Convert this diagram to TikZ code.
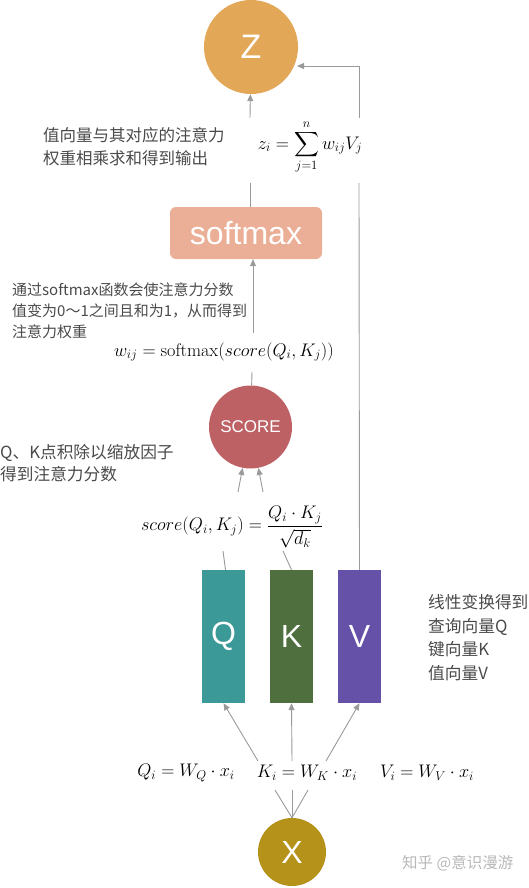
\RequirePackage{fix-cm}
\documentclass[tikz,border=0pt]{standalone}
\usepackage{fontspec}
\usepackage{amsmath}
\newfontfamily\hv{Liberation Sans}
\newfontfamily\cjk{Noto Sans CJK SC}
\usetikzlibrary{arrows.meta}
\definecolor{zcol}{HTML}{E2A757}
\definecolor{smcol}{HTML}{EBAF97}
\definecolor{sccol}{HTML}{BD6165}
\definecolor{qcol}{HTML}{3B9A97}
\definecolor{kcol}{HTML}{4F6F3E}
\definecolor{vcol}{HTML}{6551A8}
\definecolor{xcol}{HTML}{B5921A}
\definecolor{linegray}{HTML}{9A9A9A}
\definecolor{notegray}{HTML}{4A4A4A}
\definecolor{wmgray}{HTML}{B8B8B8}
\begin{document}
\begin{tikzpicture}[x=1pt,y=-1pt,
  conn/.style={draw=linegray, line width=0.9pt},
  arr/.style={conn, -{Triangle[length=7pt,width=6pt]}},
  circ/.style={circle, inner sep=0pt, text=white},
  bar/.style={rectangle, inner sep=0pt, minimum width=43pt, minimum height=133pt, text=white, font=\hv\fontsize{32}{32}\selectfont},
  note/.style={align=left, anchor=west, text=notegray, inner sep=0pt},
  eq/.style={inner sep=0pt, font=\fontsize{18.2}{20}\selectfont}
]
\useasboundingbox (0,0) rectangle (528,888);
% nodes
\node[circ, fill=zcol, minimum size=94pt, font=\hv\fontsize{34}{34}\selectfont] (Z) at (251,47) {Z};
\node[rectangle, rounded corners=6pt, fill=smcol, minimum width=152pt, minimum height=52pt, inner sep=0pt, text=white, font=\hv\fontsize{32}{32}\selectfont] (SM) at (246,233) {softmax};
\node[circ, fill=sccol, minimum size=83pt, font=\hv\fontsize{17}{17}\selectfont] (SC) at (250.5,427) {SCORE};
\node[bar, fill=qcol] (Q) at (223.5,636.5) {Q};
\node[bar, fill=kcol] (K) at (291.5,636.5) {K};
\node[bar, fill=vcol] (V) at (359.5,636.5) {V};
\node[circ, fill=xcol, minimum size=68pt, font=\hv\fontsize{32}{32}\selectfont] (X) at (292,852) {X};
% formulas
\node[eq] (fz) at (310,147) {$\displaystyle z_i=\sum_{j=1}^{n} w_{ij}V_j$};
\node[eq] (fw) at (224,352) {$w_{ij}=\mathrm{softmax}(score(Q_i,K_j))$};
\node[eq] (fs) at (232,527) {$\displaystyle score(Q_i,K_j)=\frac{Q_i\cdot K_j}{\sqrt{d_k}}$};
\node[eq] (fq) at (186,773) {$Q_i=W_Q\cdot x_i$};
\node[eq] (fk) at (307,773) {$K_i=W_K\cdot x_i$};
\node[eq] (fv) at (427,773) {$V_i=W_V\cdot x_i$};
% notes
\node[note, font=\cjk\fontsize{16.5}{23}\selectfont] (n1) at (43,146.5) {值向量与其对应的注意力\\权重相乘求和得到输出};
\node[note, font=\cjk\fontsize{15}{21}\selectfont] (n2) at (12,311) {通过softmax函数会使注意力分数\\值变为0\char"FF5E 1之间且和为1，从而得到\\注意力权重};
\node[note, font=\cjk\fontsize{16.7}{22}\selectfont] (n3) at (0,463) {Q、K点积除以缩放因子\\得到注意力分数};
\node[note, font=\cjk\fontsize{16.7}{23.7}\selectfont] (n4) at (428,637.5) {线性变换得到\\查询向量Q\\键向量K\\值向量V};
\node[anchor=west, inner sep=0pt, text=wmgray, font=\cjk\fontsize{15.5}{15.5}\selectfont] (wm) at (402,863) {知乎 @意识漫游};
% coordinates
\coordinate (a1) at (250,183);
\coordinate (a2) at (250,118);
\coordinate (b1) at (359,183);
\coordinate (b2) at (359,118);
\coordinate (b3) at (359,66);
\coordinate (zin) at (297,66);
\coordinate (c1) at (252,372);
\coordinate (c2) at (253,333);
\coordinate (d1) at (223,551);
\coordinate (d2) at (238,492);
\coordinate (e1) at (283,551);
\coordinate (e2) at (263,492);
\coordinate (f1) at (275,790);
\coordinate (f2) at (292,790);
\coordinate (f3) at (308,790);
\coordinate (g1) at (258,761);
\coordinate (g2) at (292,761);
\coordinate (g3) at (326,761);
% connectors
\draw[conn] (a1 |- SM.north) -- (a1);
\draw[arr] (a2) -- (Z);
\draw[conn] (V.north) -- (b1);
\draw[arr] (b2) -- (b3) -- (zin);
\draw[conn] (SC) -- (c1);
\draw[arr] (c2) -- (c2 |- SM.south);
\draw[conn] ([xshift=2pt]Q.north) -- (d1);
\draw[arr] (d2) -- (SC);
\draw[conn] (K.north) -- (e1);
\draw[arr] (e2) -- (SC);
\draw[conn] (X.north) -- (f1);
\draw[conn] (X.north) -- (f2);
\draw[conn] (X.north) -- (f3);
\draw[arr] (g1) -- (Q.south);
\draw[arr] (g2) -- (K.south);
\draw[arr] (g3) -- (V.south);
\end{tikzpicture}
\end{document}
